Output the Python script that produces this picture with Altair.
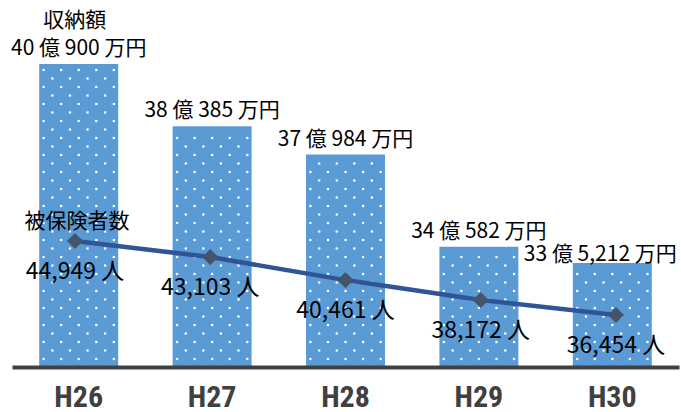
import altair as alt
import pandas as pd

years = ["H26", "H27", "H28", "H29", "H30"]
amount_man = [400900, 380385, 370984, 340582, 335212]  # 万円
amount_labels = ["40 億 900 万円", "38 億 385 万円", "37 億 984 万円", "34 億 582 万円", "33 億 5,212 万円"]
insured = [44949, 43103, 40461, 38172, 36454]
insured_labels = ["44,949 人", "43,103 人", "40,461 人", "38,172 人", "36,454 人"]

df = pd.DataFrame({
    "year": years,
    "amount": amount_man,
    "amount_label": amount_labels,
    "insured": insured,
    "insured_label": insured_labels,
})

W, H = 667, 367
STEP = W / len(years)
BAR_W = STEP * (1 - 0.408)
AMT_DOMAIN = [300890, 422010]
PPL_DOMAIN = [30485, 72615]
dpp = (AMT_DOMAIN[1] - AMT_DOMAIN[0]) / H

FONT = "Noto Sans CJK JP"
AX_FONT = "'Liberation Sans Narrow', 'Arial Narrow', 'Roboto Condensed', 'DejaVu Sans Condensed', Roboto, sans-serif"

amt_scale = alt.Scale(domain=AMT_DOMAIN, zero=False, nice=False)
band = alt.Scale(paddingInner=0.408, paddingOuter=0.204)

x_bar = alt.X("year:N", sort=years, scale=band, title=None,
              axis=alt.Axis(labelFont=AX_FONT, labelFontSize=30, labelFontWeight="bold",
                            labelColor="#404040", labelPadding=15, ticks=False, zindex=1,
                            domainColor="#404040", domainWidth=4, labelAngle=0, grid=False))
y_amt = alt.Y("amount:Q", scale=amt_scale, axis=None)

base = alt.Chart(df)

bars = base.mark_bar(color="#5B9BD5").encode(
    x=x_bar, y=y_amt, y2=alt.datum(AMT_DOMAIN[0]))

# white dot pattern inside each bar (decoration), derived from the bar data
dots = (
    base.transform_window(idx="row_number()")
    .transform_calculate(r="sequence(0, 45)")
    .transform_flatten(["r"])
    .transform_calculate(k="sequence(datum.r % 2, 9, 2)")
    .transform_flatten(["k"])
    .transform_calculate(
        yv=f"{AMT_DOMAIN[0]} + (8 + 8.5 * datum.r) * {dpp}",
        xv=f"datum.idx + (4.4 + 8.78 * datum.k - {BAR_W / 2}) / {STEP}",
    )
    .transform_filter(f"datum.yv <= datum.amount - {5 * dpp}")
    .mark_square(size=5, color="white", opacity=1)
    .encode(
        x=alt.X("xv:Q", scale=alt.Scale(domain=[0.5, len(years) + 0.5], nice=False, zero=False), axis=None),
        y=alt.Y("yv:Q", scale=amt_scale, axis=None),
    )
)

amt_lbl = base.transform_filter("datum.year != 'H30'").mark_text(
    font=FONT, fontSize=21, dy=-15, color="black"
).encode(x=x_bar, y=y_amt, text="amount_label:N")

amt_lbl30 = base.transform_filter("datum.year == 'H30'").mark_text(
    font=FONT, fontSize=21, dy=-8, dx=-12, color="black"
).encode(x=x_bar, y=y_amt, text="amount_label:N")

title_amt = base.transform_filter("datum.year == 'H26'").mark_text(
    font=FONT, fontSize=21, dy=-43, dx=-4, color="black", text="収納額"
).encode(x=x_bar, y=y_amt)

x_line = alt.X("year:N", sort=years, scale=alt.Scale(type="point", padding=0.466), axis=None)
y_ppl = alt.Y("insured:Q", scale=alt.Scale(domain=PPL_DOMAIN, zero=False, nice=False), axis=None)

line = base.mark_line(color="#2F5597", strokeWidth=4.5).encode(x=x_line, y=y_ppl)
points = base.mark_point(shape="diamond", filled=True, size=260, color="#44546A", opacity=1).encode(
    x=x_line, y=y_ppl)
ppl_lbl = base.mark_text(font=FONT, fontSize=23, dy=31, color="black").encode(
    x=x_line, y=y_ppl, text="insured_label:N")
title_ppl = base.transform_filter("datum.year == 'H26'").mark_text(
    font=FONT, fontSize=21, dy=-19, dx=2, color="black", text="被保険者数"
).encode(x=x_line, y=y_ppl)

chart = alt.layer(
    alt.layer(bars, amt_lbl, amt_lbl30, title_amt),
    dots,
    alt.layer(line, points, ppl_lbl, title_ppl),
).resolve_scale(x="independent", y="independent").properties(
    width=W, height=H,
    padding={"left": 12, "right": 2, "top": 0, "bottom": 45},
    autosize="none",
    background="white",
).configure_view(stroke=None)

chart.save("out.html", embed_options={"renderer": "svg", "actions": False})
